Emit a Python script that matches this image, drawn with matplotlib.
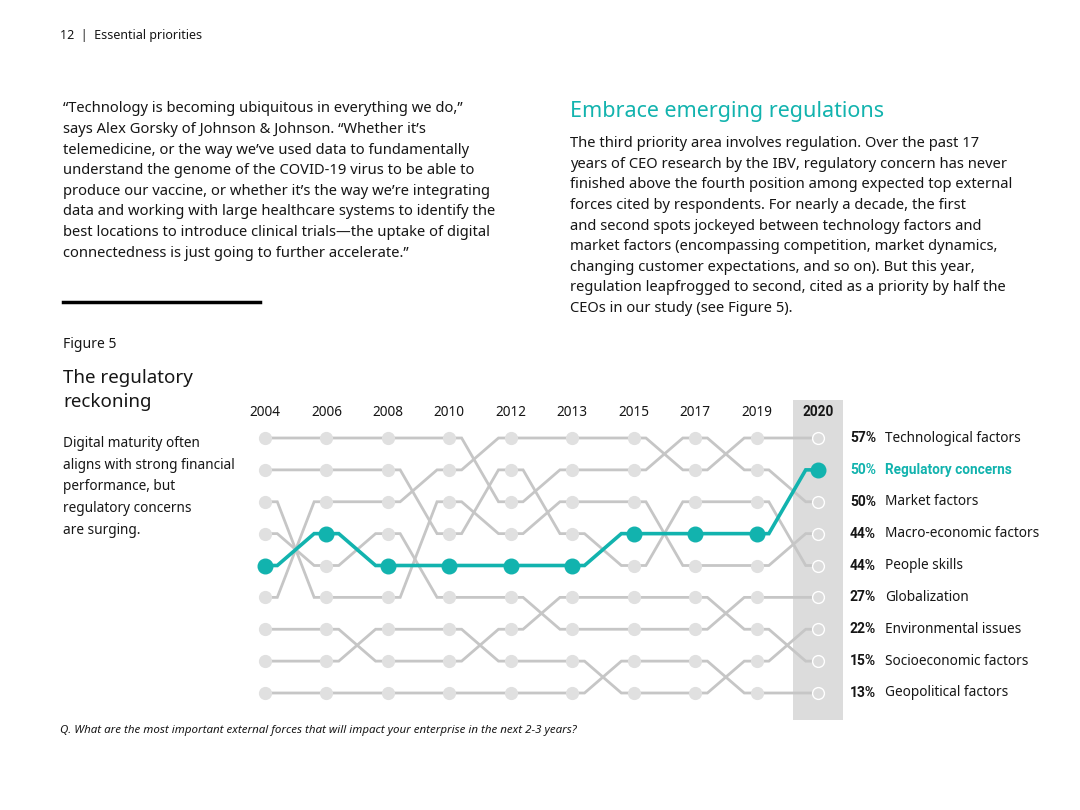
import matplotlib
matplotlib.use("Agg")
import matplotlib.pyplot as plt
import numpy as np

plt.rcParams['font.family'] = ['Noto Sans', 'DejaVu Sans']
BOLD = ['Roboto', 'DejaVu Sans']

# === 数据 ===
years = ["2004", "2006", "2008", "2010", "2012", "2013", "2015", "2017", "2019", "2020"]
factors = ["Technological factors", "Regulatory concerns", "Market factors",
           "Macro-economic factors", "People skills", "Globalization",
           "Environmental issues", "Socioeconomic factors", "Geopolitical factors"]
pct_2020 = [57, 50, 50, 44, 44, 27, 22, 15, 13]

# rank per year (1 = top)
rank_tech = [6, 3, 3, 2, 1, 1, 1, 2, 1, 1]
rank_reg = [5, 4, 5, 5, 5, 5, 4, 4, 4, 2]
rank_market = [1, 1, 1, 1, 3, 2, 2, 1, 2, 3]
rank_macro = [3, 6, 6, 3, 4, 3, 3, 5, 5, 4]
rank_people = [2, 2, 2, 4, 2, 4, 5, 3, 3, 5]
rank_glob = [4, 5, 4, 6, 6, 7, 7, 7, 6, 6]
rank_env = [8, 8, 7, 7, 8, 8, 9, 9, 8, 7]
rank_socio = [7, 7, 8, 8, 7, 6, 6, 6, 7, 8]
rank_geo = [9, 9, 9, 9, 9, 9, 8, 8, 9, 9]

ranks = [rank_tech, rank_reg, rank_market, rank_macro, rank_people,
         rank_glob, rank_env, rank_socio, rank_geo]
highlight = "Regulatory concerns"

TEAL = "#12b3ae"
LINE_GREY = "#c6c6c6"
DOT_GREY = "#e0e0e0"
BAND = "#dcdcdc"
TXT = "#161616"


def bump_path(r, s=0.2):
    xs, ys = [], []
    for i in range(len(r) - 1):
        xs += [i, i + s, i + 1 - s, i + 1]
        ys += [r[i], r[i], r[i + 1], r[i + 1]]
    return xs, ys


fig = plt.figure(figsize=(10.8, 8.1), dpi=100)
W, H = 1080, 810

def ft(x, y, s, **kw):
    fig.text(x / W, 1 - y / H, s, **kw)

# header
ft(60, 36, "12  |  Essential priorities", fontsize=9, color=TXT, va="center")

quote = ("\u201cTechnology is becoming ubiquitous in everything we do,\u201d\n"
         "says Alex Gorsky of Johnson & Johnson. \u201cWhether it\u2019s\n"
         "telemedicine, or the way we\u2019ve used data to fundamentally\n"
         "understand the genome of the COVID-19 virus to be able to\n"
         "produce our vaccine, or whether it\u2019s the way we\u2019re integrating\n"
         "data and working with large healthcare systems to identify the\n"
         "best locations to introduce clinical trials\u2014the uptake of digital\n"
         "connectedness is just going to further accelerate.\u201d")
ft(63, 181, quote, fontsize=10.6, color=TXT, va="center", linespacing=1.51)

fig.add_artist(plt.Line2D([63 / W, 260 / W], [1 - 302 / H, 1 - 302 / H],
                          color="black", lw=2.5))

ft(570, 111, "Embrace emerging regulations", fontsize=15.5, color=TEAL, va="center")
body = ("The third priority area involves regulation. Over the past 17\n"
        "years of CEO research by the IBV, regulatory concern has never\n"
        "finished above the fourth position among expected top external\n"
        "forces cited by respondents. For nearly a decade, the first\n"
        "and second spots jockeyed between technology factors and\n"
        "market factors (encompassing competition, market dynamics,\n"
        "changing customer expectations, and so on). But this year,\n"
        "regulation leapfrogged to second, cited as a priority by half the\n"
        "CEOs in our study (see Figure 5).")
ft(570, 226, body, fontsize=10.6, color=TXT, va="center", linespacing=1.51)

ft(63, 344, "Figure 5", fontsize=10, color=TXT, va="center")
ft(63, 390, "The regulatory\nreckoning", fontsize=13.5, color=TXT, va="center",
   linespacing=1.4)
ft(63, 487, "Digital maturity often\naligns with strong financial\nperformance, but\n"
   "regulatory concerns\nare surging.", fontsize=9.8, color=TXT, va="center",
   linespacing=1.6)
ft(60, 731, "Q. What are the most important external forces that will impact your "
   "enterprise in the next 2-3 years?", fontsize=8.3, color=TXT, style="italic",
   va="center")

# === bump chart ===
dx = (818 - 265) / 9
dy = (693 - 438) / 8
left = 265 - 0.5 * dx
top = 438 - 1.5 * dy
ax = fig.add_axes([left / W, 1 - (top + 10.5 * dy) / H, 10 * dx / W, 10.5 * dy / H])
ax.set_xlim(-0.5, 9.5)
ax.set_ylim(10, -0.5)
ax.axis("off")

n = len(years)
ax.fill_between([n - 1 - 0.41, n - 1 + 0.41], -0.19, 9.85, color=BAND, lw=0, zorder=0)

for name, r in zip(factors, ranks):
    xs, ys = bump_path(r)
    hl = name == highlight
    ax.plot(xs, ys, color=TEAL if hl else LINE_GREY, lw=2.6 if hl else 2.0,
            solid_capstyle="butt", solid_joinstyle="miter", zorder=3 if hl else 1)
    if hl:
        ax.plot(range(n), r, "o", ms=10.5, color=TEAL, mec=TEAL, zorder=4)
    else:
        ax.plot(range(n - 1), r[:-1], "o", ms=8.5, color=DOT_GREY, mec=DOT_GREY, zorder=2)
        ax.plot([n - 1], [r[-1]], "o", ms=8.5, mfc=BAND, mec="white", mew=1.0, zorder=2)

for i, y in enumerate(years):
    last = i == n - 1
    ax.text(i, 0.2, y, ha="center", va="center", fontsize=9.8, color=TXT,
            family=BOLD if last else None, fontweight="bold" if last else "normal")

for k in range(len(factors)):
    hl = factors[k] == highlight
    c = TEAL if hl else TXT
    ax.text(n - 1 + 0.52, k + 1, f"{pct_2020[k]}%", ha="left", va="center",
            fontsize=10, color=c, family=BOLD, fontweight="bold", clip_on=False)
    ax.text(n - 1 + 1.09, k + 1, factors[k], ha="left", va="center",
            fontsize=9.8, color=c, family=BOLD if hl else None,
            fontweight="bold" if hl else "normal", clip_on=False)

fig.savefig("out.png", dpi=100, facecolor="white")
